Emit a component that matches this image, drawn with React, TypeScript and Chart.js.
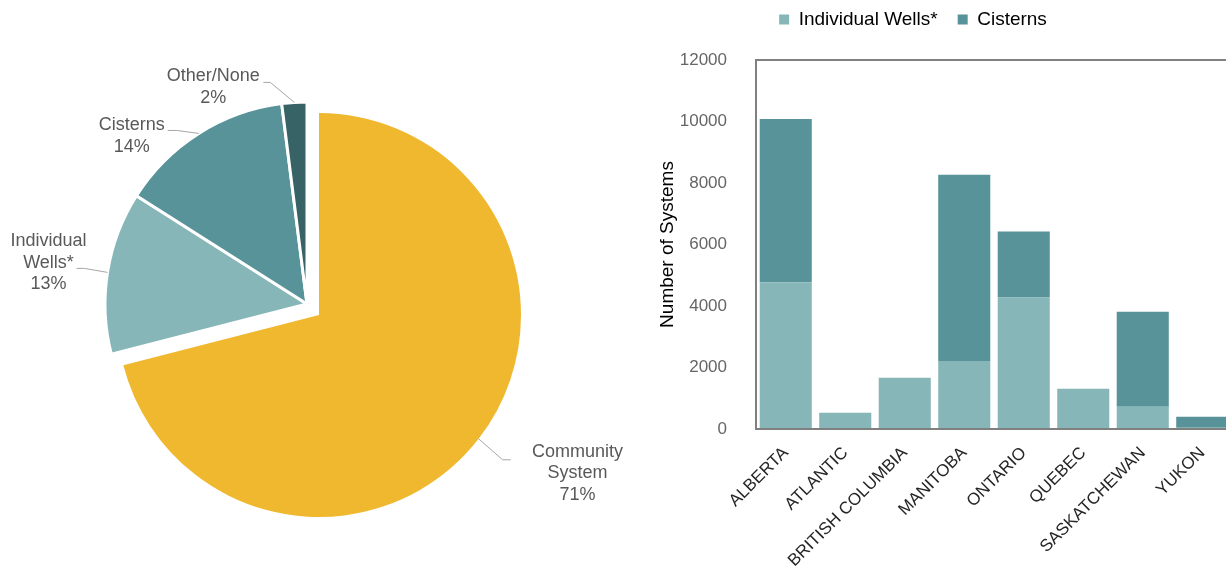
import React, { useEffect, useRef } from 'react';
import { Chart, registerables } from 'chart.js';

Chart.register(...registerables);
Chart.defaults.font.family = '"Liberation Sans", Arial, sans-serif';

// ---------- Pie data ----------
const pieCategories = ['Community System', 'Individual Wells*', 'Cisterns', 'Other/None'];
const pieValues = [71, 13, 14, 2];
const pieLabelLines = [['Community', 'System'], ['Individual', 'Wells*'], ['Cisterns'], ['Other/None']];
const pieColors = ['#EFB82E', '#87B6B9', '#579399', '#376266'];

// ---------- Bar data ----------
const provinces = ['ALBERTA', 'ATLANTIC', 'BRITISH COLUMBIA', 'MANITOBA', 'ONTARIO', 'QUEBEC', 'SASKATCHEWAN', 'YUKON'];
const individualWells = [4770, 530, 1665, 2215, 4280, 1308, 724, 40];
const cisternsCounts = [5310, 0, 0, 6055, 2142, 0, 3093, 360];
const yTicks = [0, 2000, 4000, 6000, 8000, 10000, 12000];

// label leader-line styling relative to each slice's outer edge midpoint
const labelPlacement = [
  { elbow: [24, 21], end: [32, 21], text: [99, 13] },
  { elbow: [-23, -4], end: [-31, -4], text: [-59, -31] },
  { elbow: [-22, -3], end: [-31, -3], text: [-67, -8] },
  { elbow: [-24, -20], end: [-31, -20], text: [-81, -26] },
];

const pieLabelPlugin = {
  id: 'pieLabels',
  afterDatasetsDraw(chart: any, _args: any, opts: any) {
    const show: number[] = opts.show || [];
    const ctx = chart.ctx;
    const meta = chart.getDatasetMeta(0);
    meta.data.forEach((arc: any, i: number) => {
      if (!show.includes(i)) return;
      const mid = (arc.startAngle + arc.endAngle) / 2;
      const ex = arc.x + Math.cos(mid) * arc.outerRadius;
      const ey = arc.y + Math.sin(mid) * arc.outerRadius;
      const p = labelPlacement[i];
      ctx.save();
      ctx.strokeStyle = '#A6A6A6';
      ctx.lineWidth = 1;
      ctx.beginPath();
      ctx.moveTo(ex, ey);
      ctx.lineTo(ex + p.elbow[0], ey + p.elbow[1]);
      ctx.lineTo(ex + p.end[0], ey + p.end[1]);
      ctx.stroke();
      ctx.fillStyle = '#595959';
      ctx.font = '18px "Liberation Sans", Arial, sans-serif';
      ctx.textAlign = 'center';
      ctx.textBaseline = 'middle';
      const lines = [...pieLabelLines[i], `${pieValues[i]}%`];
      lines.forEach((t, k) => {
        ctx.fillText(t, ex + p.text[0], ey + p.text[1] + k * 21.5);
      });
      ctx.restore();
    });
  },
};

function PieLayer({ show, width, padTop, z }: { show: number[]; width: number; padTop: number; z: number }) {
  const ref = useRef<HTMLCanvasElement>(null);
  useEffect(() => {
    if (!ref.current) return;
    const chart = new Chart(ref.current, {
      type: 'pie',
      data: {
        labels: pieCategories,
        datasets: [
          {
            data: pieValues,
            backgroundColor: pieColors.map((c, i) => (show.includes(i) ? c : 'rgba(0,0,0,0)')),
            borderColor: pieColors.map((_c, i) => (show.includes(i) && show.length > 1 ? '#ffffff' : 'rgba(0,0,0,0)')),
            borderWidth: show.length > 1 ? 3 : 0,
          },
        ],
      },
      options: {
        animation: false,
        responsive: false,
        maintainAspectRatio: false,
        events: [],
        radius: 202,
        layout: { padding: { top: padTop, bottom: 0, left: 0, right: 0 } },
        plugins: {
          legend: { display: false },
          tooltip: { enabled: false },
          pieLabels: { show },
        } as any,
      },
      plugins: [pieLabelPlugin],
    });
    return () => chart.destroy();
  }, []);
  return (
    <canvas
      ref={ref}
      width={width}
      height={571}
      style={{ position: 'absolute', left: 0, top: 0, width, height: 571, zIndex: z }}
    />
  );
}

const legendSpacing = {
  id: 'legendSpacing',
  beforeInit(chart: any) {
    if (!chart.legend) return;
    const origFit = chart.legend.fit;
    chart.legend.fit = function () {
      origFit.bind(chart.legend)();
      this.height += 21;
    };
  },
};

function BarLayer() {
  const ref = useRef<HTMLCanvasElement>(null);
  useEffect(() => {
    if (!ref.current) return;
    const chart = new Chart(ref.current, {
      type: 'bar',
      data: {
        labels: provinces,
        datasets: [
          { label: 'Individual Wells*', data: individualWells, backgroundColor: '#87B6B9', borderWidth: 0 },
          { label: 'Cisterns', data: cisternsCounts, backgroundColor: '#579399', borderWidth: 0 },
        ],
      },
      options: {
        animation: false,
        responsive: false,
        maintainAspectRatio: false,
        events: [],
        datasets: { bar: { barPercentage: 0.875, categoryPercentage: 1 } },
        layout: { padding: { top: -10, left: 0, right: 0, bottom: 0 } },
        plugins: {
          legend: {
            position: 'top',
            labels: {
              boxWidth: 10,
              boxHeight: 10,
              padding: 20,
              color: '#000000',
              font: { size: 19 },
            },
          },
          tooltip: { enabled: false },
        },
        scales: {
          x: {
            stacked: true,
            grid: { display: false, drawTicks: false },
            border: { color: '#808080', width: 2 },
            ticks: { minRotation: 45, maxRotation: 45, color: '#262626', font: { size: 17 }, padding: 14 },
            afterFit: (s: any) => {
              s.height = 142;
            },
          },
          y: {
            stacked: true,
            min: 0,
            max: 12000,
            afterBuildTicks: (s: any) => {
              s.ticks = yTicks.map((v) => ({ value: v }));
            },
            ticks: {
              color: '#666666',
              font: { size: 17 },
              padding: 29,
              callback: (v: any) => String(v),
            },
            grid: {
              drawTicks: false,
              lineWidth: 2,
              color: (c: any) => (c.tick && c.tick.value === 12000 ? '#808080' : 'rgba(0,0,0,0)'),
            },
            border: { color: '#808080', width: 2 },
            title: {
              display: true,
              text: 'Number of Systems',
              color: '#000000',
              font: { size: 19 },
              padding: { top: 62, bottom: 0 },
            },
            afterFit: (s: any) => {
              s.width = 162;
            },
          },
        },
      },
      plugins: [legendSpacing],
    });
    return () => chart.destroy();
  }, []);
  return (
    <canvas
      ref={ref}
      width={638}
      height={571}
      style={{ position: 'absolute', left: 594, top: 0, width: 638, height: 571 }}
    />
  );
}

export default function App() {
  return (
    <div
      style={{
        position: 'fixed',
        left: 0,
        top: 0,
        width: 1226,
        height: 571,
        overflow: 'hidden',
        background: '#ffffff',
      }}
    >
      <BarLayer />
      <PieLayer show={[0]} width={638} padTop={59} z={1} />
      <PieLayer show={[1, 2, 3]} width={614} padTop={37} z={2} />
    </div>
  );
}
